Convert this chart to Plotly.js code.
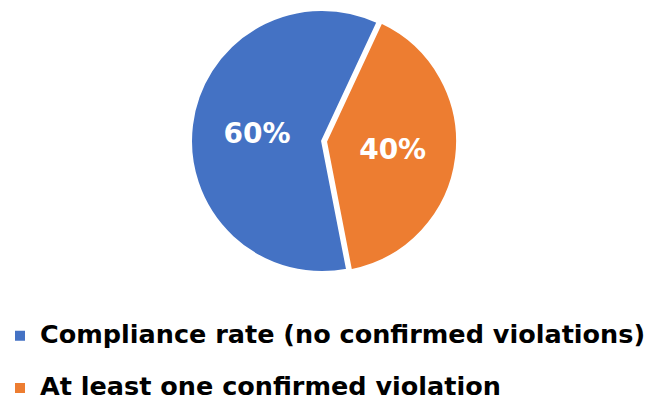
<!DOCTYPE html>
<html>
<head>
<meta charset="utf-8">
<script src="https://cdn.plot.ly/plotly-3.0.1.min.js"></script>
<style>html,body{margin:0;padding:0;background:#fff;}#chart{width:654px;height:400px;}</style>
</head>
<body>
<div id="chart"></div>
<script>
const labels = ["Compliance rate (no confirmed violations)", "At least one confirmed violation"];
const values = [60, 40];
const colors = ["#4472C4", "#ED7D31"];
const pulls = [0, 0.03];

// legend entries: first line holds the label, an empty second line sets row spacing
const legendLabels = labels.map(l => '<span style="font-size:25.5px">' + l + '</span><br> ');

const trace = {
  type: "pie",
  labels: legendLabels,
  values: values,
  sort: false,
  direction: "clockwise",
  rotation: 169,
  pull: pulls,
  marker: {colors: colors, line: {color: "#ffffff", width: 2}},
  textinfo: "percent",
  texttemplate: "%{percent:.0%}",
  textposition: "inside",
  insidetextorientation: "horizontal",
  textfont: {family: "DejaVu Sans, sans-serif", size: 28, color: "#ffffff", weight: "bold"},
  domain: {x: [0.286, 0.699], y: [0.31, 0.985]},
  hoverinfo: "none"
};

const layout = {
  width: 654,
  height: 400,
  margin: {l: 0, r: 0, t: 0, b: 0, autoexpand: false},
  paper_bgcolor: "#ffffff",
  showlegend: true,
  legend: {
    orientation: "v",
    x: 0, xanchor: "left",
    y: 0.208, yanchor: "top",
    valign: "top",
    font: {family: "DejaVu Sans, sans-serif", size: 19, color: "#000000", weight: "bold"},
    tracegroupgap: 0
  }
};

Plotly.newPlot("chart", [trace], layout, {staticPlot: true});
</script>
</body>
</html>
